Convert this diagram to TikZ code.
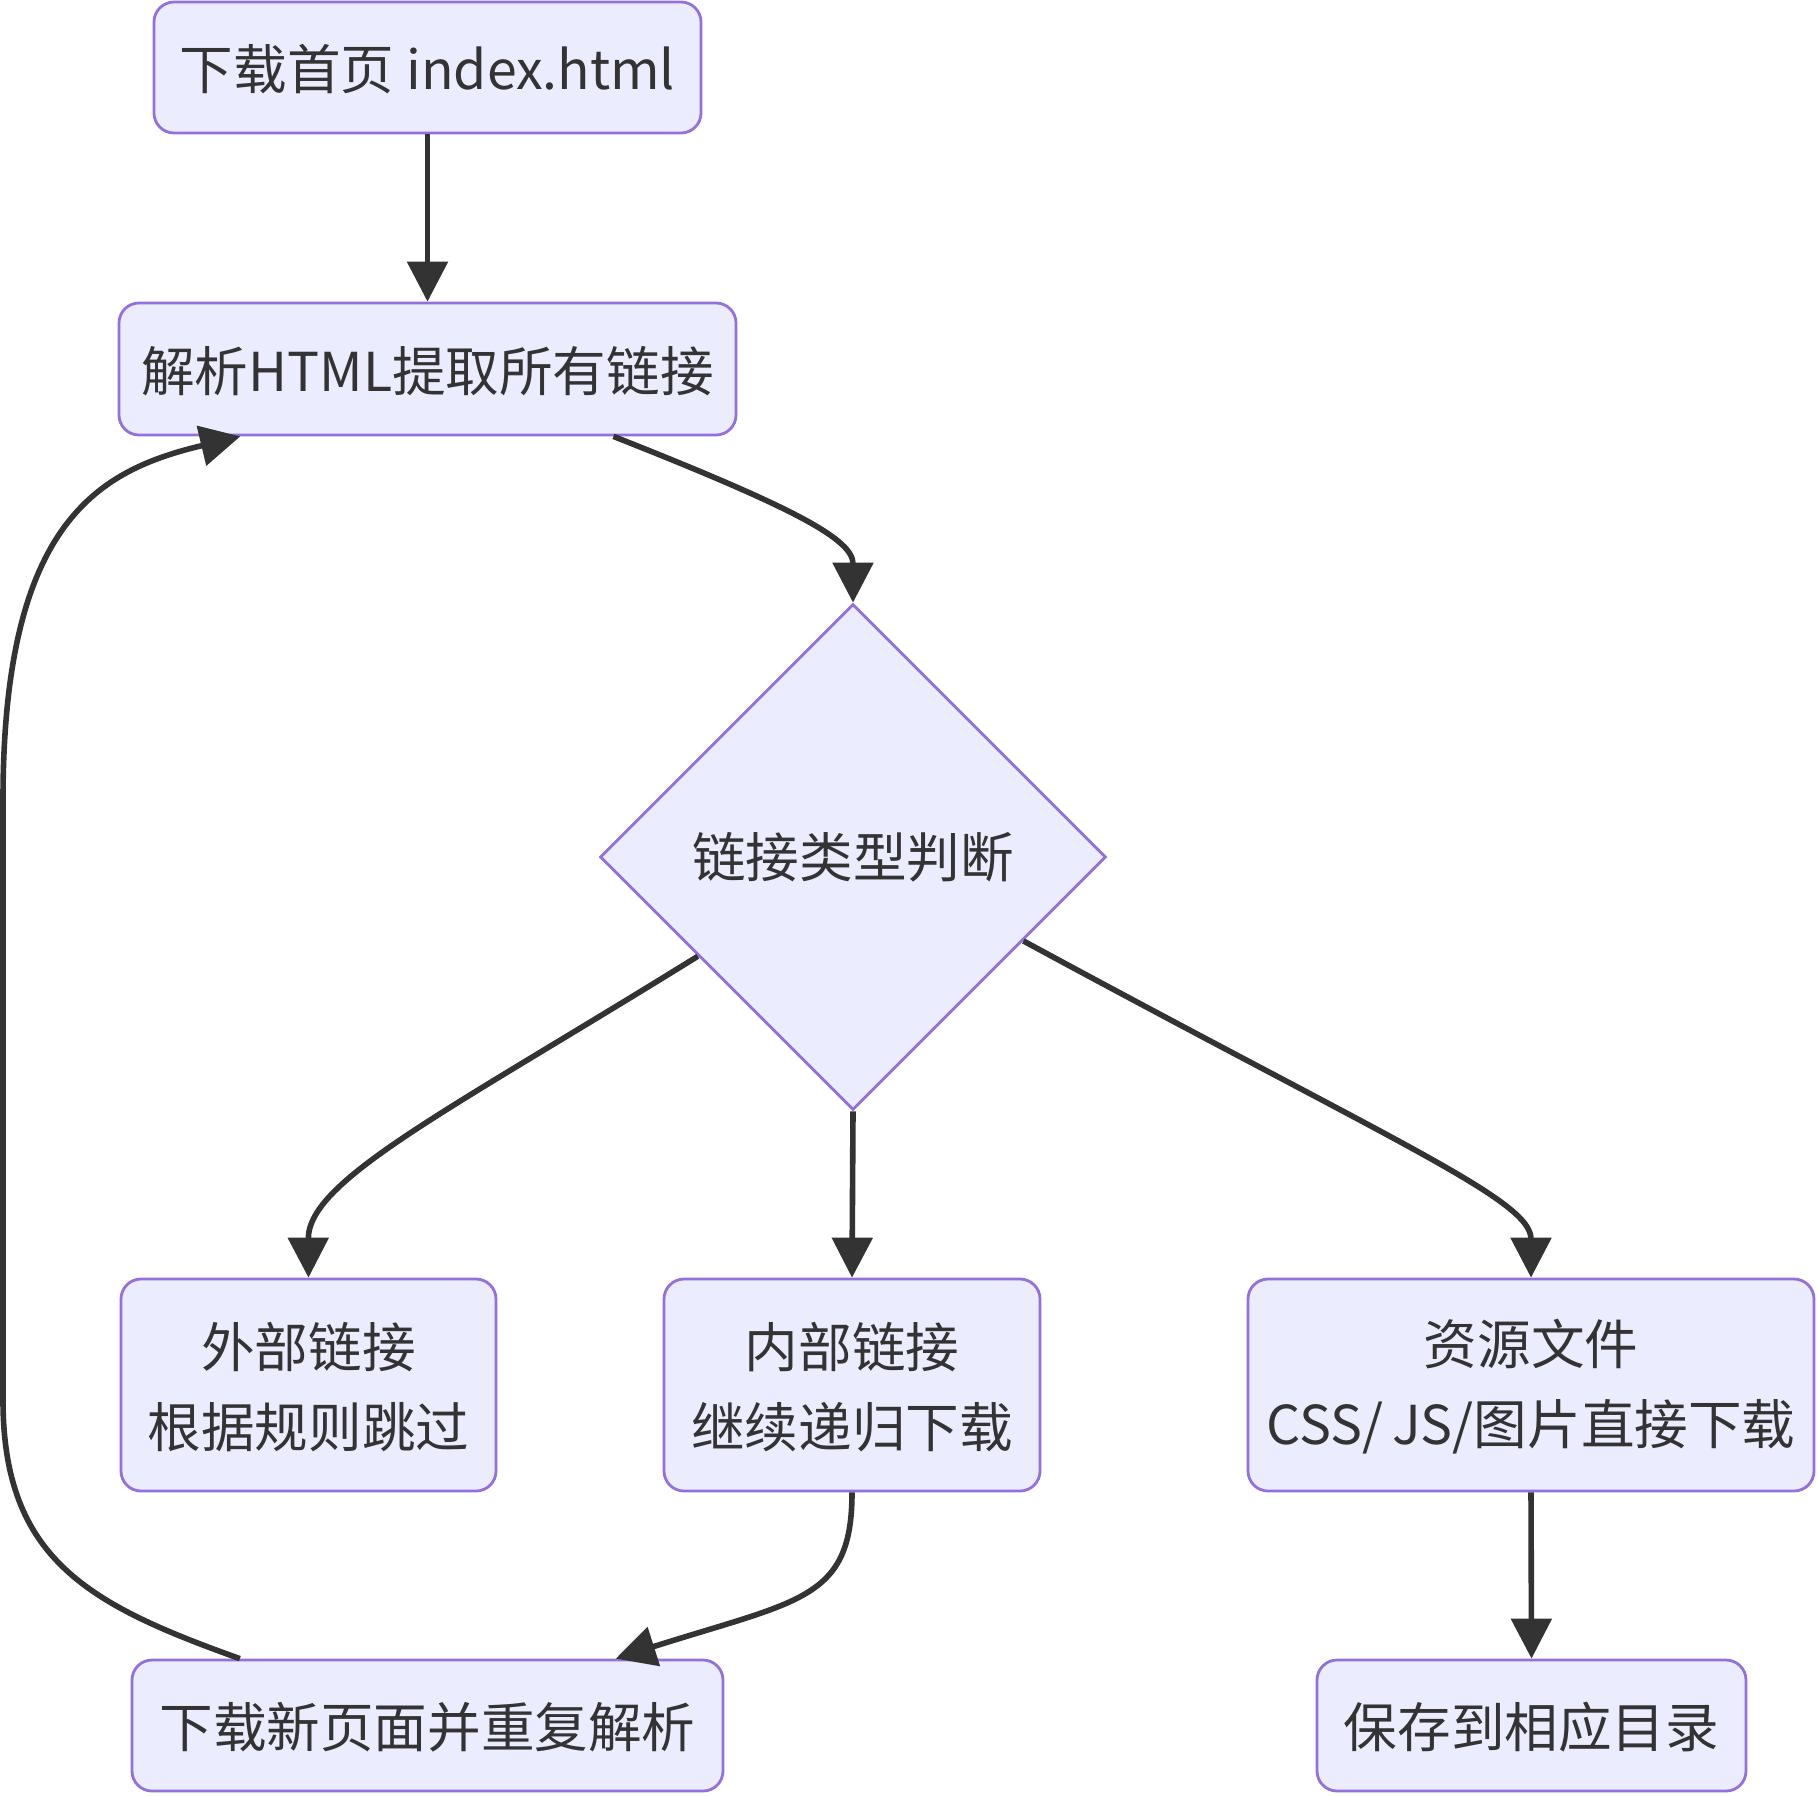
\documentclass[tikz,border=0pt]{standalone}
\usepackage{fontspec}
\setmainfont{Noto Sans CJK SC}
\usetikzlibrary{shapes.geometric,arrows.meta,calc}
\definecolor{nodefill}{HTML}{ECECFF}
\definecolor{nodeline}{HTML}{9370DB}
\definecolor{ink}{HTML}{333333}
\newcommand\lowerby{\rule{0pt}{\dimexpr\fontcharht\font`下+4.6pt\relax}}
\tikzset{
  box/.style={draw=nodeline, fill=nodefill, line width=1.4pt, rounded corners=10pt,
    text=ink, font=\fontsize{26.8}{40}\selectfont, align=center, inner sep=0pt},
  decide/.style={diamond, draw=nodeline, fill=nodefill, line width=1.4pt, text=ink,
    font=\fontsize{26.8}{40}\selectfont, minimum width=253pt, minimum height=253pt,
    inner sep=0pt, aspect=1},
  link/.style={draw=ink, line width=2.8pt, -{Triangle[length=20pt,width=20pt]}},
}
\begin{document}
\begin{tikzpicture}[x=0.5pt,y=-0.5pt]
\useasboundingbox (0,0) rectangle (1818,1795);
\node[box, minimum width=273.5pt, minimum height=65.5pt] (a) at (427.5,67.5) {\lowerby 下载首页 index.html};
\node[box, minimum width=308.5pt, minimum height=66pt] (b) at (427.5,369) {\lowerby 解析HTML提取所有链接};
\node[decide] (d) at (853,857) {链接类型判断};
\node[box, minimum width=187.5pt, minimum height=106pt] (e) at (308.5,1385) {\lowerby 外部链接\\根据规则跳过};
\node[box, minimum width=188pt, minimum height=106pt] (f) at (852,1385) {\lowerby 内部链接\\继续递归下载};
\node[box, minimum width=283pt, minimum height=106pt] (g) at (1531,1385) {\lowerby 资源文件\\CSS/\,JS/图片直接下载};
\node[box, minimum width=295.5pt, minimum height=65.5pt] (h) at (427.5,1725.5) {\lowerby 下载新页面并重复解析};
\node[box, minimum width=214.5pt, minimum height=65.5pt] (i) at (1531.5,1725.5) {\lowerby 保存到相应目录};

\draw[link] (a.south) -- (b.north);
\draw[link] ($(b.south west)!0.8!(b.south east)$) .. controls (800,510) and (853,540) .. (d.north);
\draw[link] ($(d.west)!0.39!(d.south)$) .. controls (450,1110) and (308,1180) .. (e.north);
\draw[link] (d.south) -- (f.north);
\draw[link] ($(d.east)!0.33!(d.south)$) .. controls (1400,1145) and (1531,1200) .. (g.north);
\draw[link] (f.south) .. controls (852,1600) and (800,1600) .. ($(h.north west)!0.817!(h.north east)$);
\draw[link] ($(h.north west)!0.184!(h.north east)$) .. controls (90,1605) and (3,1560) .. (3,1400) -- (3,800) .. controls (3,520) and (100,470) .. ($(b.south west)!0.198!(b.south east)$);
\draw[link] (g.south) -- (i.north);
\end{tikzpicture}
\end{document}
